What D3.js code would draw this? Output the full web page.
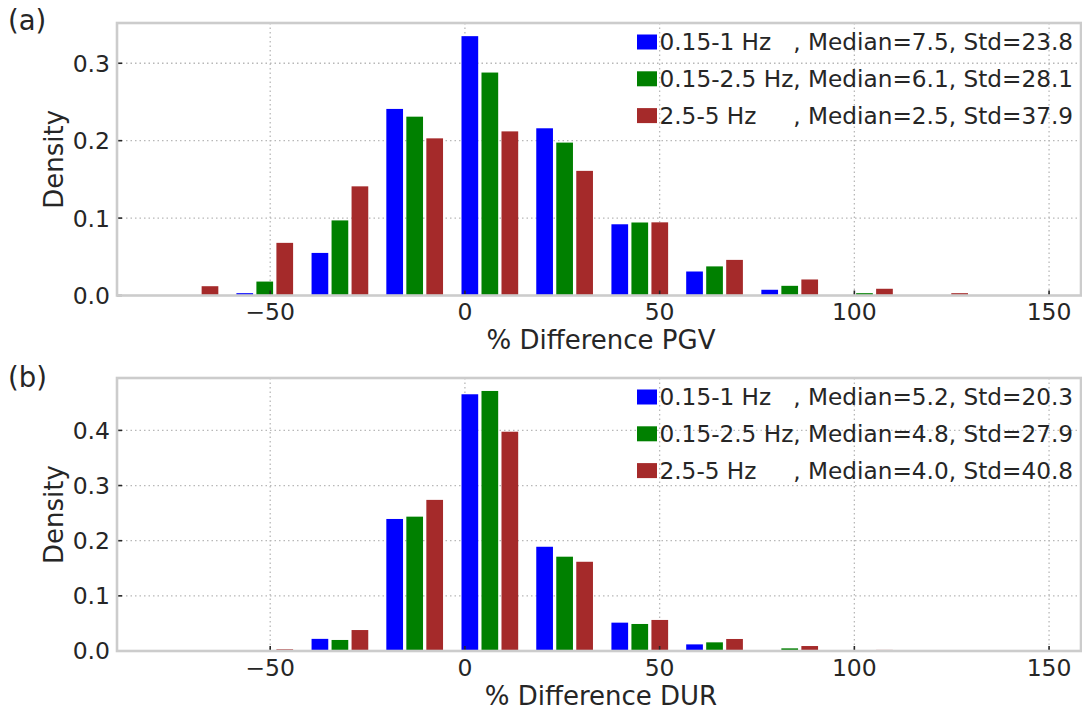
<!DOCTYPE html>
<html>
<head>
<meta charset="utf-8">
<script src="https://cdn.jsdelivr.net/npm/d3@7"></script>
<style>
  html, body { margin: 0; padding: 0; background: #ffffff; }
  svg text { font-family: "DejaVu Sans", sans-serif; fill: #262626; }
</style>
</head>
<body>
<svg id="chart" width="1082" height="710"></svg>
<script>
// ---- data ----
const binCenters = [-70.6, -51.4, -32.1, -12.9, 6.4, 25.6, 44.9, 64.1, 83.4, 102.6, 121.9, 141.1];
const binWidth = 19.26;
const seriesNames = ["0.15-1 Hz", "0.15-2.5 Hz", "2.5-5 Hz"];
const seriesColors = ["#0000ff", "#008000", "#a52a2a"];

const pgvLow  = [0, 0.003, 0.055, 0.241, 0.335, 0.216, 0.092, 0.031, 0.0074, 0, 0, 0];
const pgvMid  = [0, 0.018, 0.097, 0.231, 0.288, 0.1975, 0.0943, 0.0376, 0.0125, 0.003, 0, 0];
const pgvHigh = [0.012, 0.068, 0.141, 0.203, 0.212, 0.161, 0.0945, 0.046, 0.0207, 0.0087, 0.003, 0];
const pgvLegend = ["0.15-1 Hz   , Median=7.5, Std=23.8",
                   "0.15-2.5 Hz, Median=6.1, Std=28.1",
                   "2.5-5 Hz     , Median=2.5, Std=37.9"];

const durLow  = [0, 0, 0.022, 0.2394, 0.4655, 0.189, 0.0514, 0.012, 0, 0, 0, 0];
const durMid  = [0, 0, 0.020, 0.2436, 0.4715, 0.171, 0.049, 0.0157, 0.0048, 0, 0, 0];
const durHigh = [0, 0.003, 0.038, 0.274, 0.3976, 0.1618, 0.0563, 0.0218, 0.009, 0.002, 0, 0];
const durLegend = ["0.15-1 Hz   , Median=5.2, Std=20.3",
                   "0.15-2.5 Hz, Median=4.8, Std=27.9",
                   "2.5-5 Hz     , Median=4.0, Std=40.8"];

const xTicks = [-50, 0, 50, 100, 150];
const xDomain = [-89.34, 158.2];

const panels = [
  { tag: "(a)", xlabel: "% Difference PGV", series: [pgvLow, pgvMid, pgvHigh], legend: pgvLegend,
    yMax: 0.352, yTicks: [0.0, 0.1, 0.2, 0.3], top: 23, bottom: 295.5, tagY: 30 },
  { tag: "(b)", xlabel: "% Difference DUR", series: [durLow, durMid, durHigh], legend: durLegend,
    yMax: 0.495, yTicks: [0.0, 0.1, 0.2, 0.3, 0.4], top: 378, bottom: 651, tagY: 387 }
];

// ---- layout ----
const left = 117, right = 1081;
const svg = d3.select("#chart");
const fs = 23.2;
const tickFs = 23.5;
const labelFs = 26;

panels.forEach(p => {
  const x = d3.scaleLinear().domain(xDomain).range([left, right]);
  const y = d3.scaleLinear().domain([0, p.yMax]).range([p.bottom, p.top]);
  const g = svg.append("g");

  // grid
  g.append("g").selectAll("line.vg").data(xTicks).join("line")
    .attr("x1", d => x(d)).attr("x2", d => x(d))
    .attr("y1", p.top).attr("y2", p.bottom)
    .attr("stroke", "#b8b8b8").attr("stroke-width", 1.3).attr("stroke-dasharray", "1.5,3");
  g.append("g").selectAll("line.hg").data(p.yTicks.filter(d => d > 0)).join("line")
    .attr("x1", left).attr("x2", right)
    .attr("y1", d => y(d)).attr("y2", d => y(d))
    .attr("stroke", "#b8b8b8").attr("stroke-width", 1.3).attr("stroke-dasharray", "1.5,3");

  // bars
  const slot = binWidth * 0.8 / 3;
  p.series.forEach((vals, s) => {
    g.append("g").selectAll("rect").data(vals.map((v, i) => ({ v, c: binCenters[i] })).filter(d => d.v > 0))
      .join("rect")
      .attr("x", d => x(d.c - 0.4 * binWidth + s * slot) + 1.65)
      .attr("width", d => x(d.c - 0.4 * binWidth + (s + 1) * slot) - x(d.c - 0.4 * binWidth + s * slot) - 3.3)
      .attr("y", d => y(d.v))
      .attr("height", d => y(0) - y(d.v))
      .attr("fill", seriesColors[s]);
  });

  // ticks (inside)
  g.append("g").selectAll("line").data(xTicks).join("line")
    .attr("x1", d => x(d)).attr("x2", d => x(d))
    .attr("y1", p.bottom).attr("y2", p.bottom - 5)
    .attr("stroke", "#262626").attr("stroke-width", 1.6);
  g.append("g").selectAll("line").data(p.yTicks).join("line")
    .attr("x1", left).attr("x2", left + 5)
    .attr("y1", d => y(d)).attr("y2", d => y(d))
    .attr("stroke", "#262626").attr("stroke-width", 1.6);

  // frame
  g.append("rect").attr("x", left).attr("y", p.top).attr("width", right - left).attr("height", p.bottom - p.top)
    .attr("fill", "none").attr("stroke", "#cccccc").attr("stroke-width", 2.6);

  // tick labels
  g.append("g").selectAll("text").data(xTicks).join("text")
    .attr("x", d => x(d)).attr("y", p.bottom + 24.5)
    .attr("text-anchor", "middle").attr("font-size", tickFs)
    .text(d => d < 0 ? "\u2212" + Math.abs(d) : d);
  g.append("g").selectAll("text").data(p.yTicks).join("text")
    .attr("x", 110).attr("y", d => y(d)).attr("dy", "0.36em")
    .attr("text-anchor", "end").attr("font-size", tickFs)
    .text(d => d.toFixed(1));

  // axis labels
  g.append("text").attr("x", 601).attr("y", p.bottom + 53.5)
    .attr("text-anchor", "middle").attr("font-size", labelFs).text(p.xlabel);
  g.append("text")
    .attr("transform", `translate(63,${(p.top + p.bottom) / 2}) rotate(-90)`)
    .attr("text-anchor", "middle").attr("font-size", labelFs).text("Density");

  // panel tag
  g.append("text").attr("x", 8).attr("y", p.tagY).attr("font-size", 27.5).text(p.tag);

  // legend
  const lg = g.append("g");
  p.legend.forEach((txt, i) => {
    const cy = p.top + 19 + i * 36.8;
    lg.append("rect").attr("x", 637).attr("y", cy - 7.5).attr("width", 20).attr("height", 15)
      .attr("fill", seriesColors[i]);
    lg.append("text").attr("x", 659.5).attr("y", cy).attr("dy", "0.36em")
      .attr("font-size", fs).style("white-space", "pre").text(txt);
  });
});
</script>
</body>
</html>
